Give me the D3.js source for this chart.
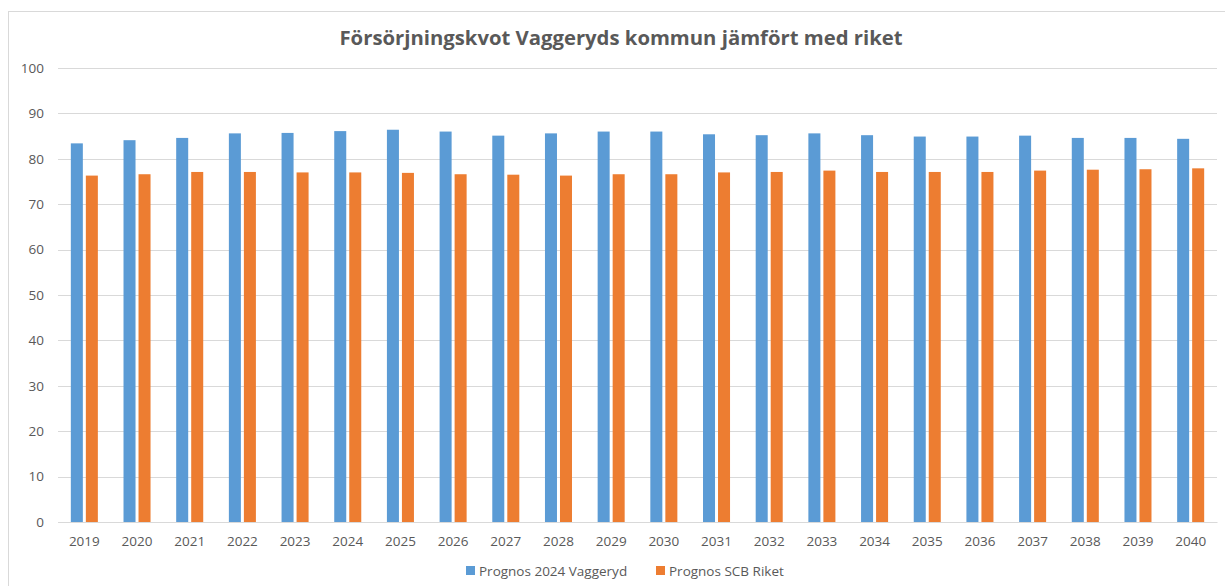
<!DOCTYPE html>
<html>
<head>
<meta charset="utf-8">
<script src="https://cdn.jsdelivr.net/npm/d3@7"></script>
<style>
  body { margin: 0; background: #fff; }
  svg { display: block; font-family: "Open Sans", "Liberation Sans", sans-serif; }
</style>
</head>
<body>
<svg width="1225" height="586"></svg>
<script>
const years = ['2019', '2020', '2021', '2022', '2023', '2024', '2025', '2026', '2027', '2028', '2029',
  '2030', '2031', '2032', '2033', '2034', '2035', '2036', '2037', '2038', '2039', '2040'];
const vaggeryd = [83.4, 84.1, 84.6, 85.6, 85.7, 86.1, 86.4, 86.0, 85.1, 85.6, 86.0,
  86.0, 85.4, 85.2, 85.6, 85.2, 84.9, 84.9, 85.1, 84.6, 84.6, 84.4];
const riket = [76.3, 76.6, 77.1, 77.1, 77.0, 77.0, 76.9, 76.6, 76.5, 76.3, 76.6,
  76.6, 77.0, 77.1, 77.4, 77.1, 77.1, 77.1, 77.4, 77.6, 77.7, 77.9];
const seriesNames = ['Prognos 2024 Vaggeryd', 'Prognos SCB Riket'];
const yTicks = [0, 10, 20, 30, 40, 50, 60, 70, 80, 90, 100];

const colors = ['#5b9bd5', '#ed7d31'];
const textColor = '#595959';

const svg = d3.select('svg');
const margin = { top: 68, right: 8, bottom: 64, left: 58 };
const width = 1225, height = 586;

// chart frame (only left/top edges are inside the picture)
svg.append('rect')
  .attr('x', 8.5).attr('y', 11.5)
  .attr('width', 1240).attr('height', 600)
  .attr('fill', 'none').attr('stroke', '#d9d9d9');

const x0 = d3.scaleBand()
  .domain(years)
  .range([margin.left, width - margin.right])
  .paddingInner(0.487)
  .paddingOuter(0.2435);

const x1 = d3.scaleBand()
  .domain([0, 1])
  .range([0, x0.bandwidth()])
  .paddingInner(0.2);

const y = d3.scaleLinear()
  .domain([0, 100])
  .range([height - margin.bottom, margin.top]);

// gridlines
svg.append('g')
  .selectAll('line').data(yTicks)
  .enter().append('line')
  .attr('x1', margin.left).attr('x2', width - margin.right)
  .attr('y1', d => Math.round(y(d)) + 0.5).attr('y2', d => Math.round(y(d)) + 0.5)
  .attr('stroke', '#d9d9d9').attr('stroke-width', 1);

// y labels
const yAxis = svg.append('g')
  .attr('transform', `translate(${margin.left - 14},0)`)
  .call(d3.axisLeft(y).tickValues(yTicks).tickSize(0).tickPadding(0));
yAxis.select('.domain').remove();
yAxis.selectAll('text')
  .attr('fill', textColor).attr('font-size', '13.5px')
  .attr('font-family', '"Open Sans", sans-serif');

// bars
const data = years.map((yr, i) => ({ year: yr, values: [vaggeryd[i], riket[i]] }));

const groups = svg.append('g')
  .selectAll('g').data(data)
  .enter().append('g')
  .attr('transform', d => `translate(${x0(d.year)},0)`);

groups.selectAll('rect')
  .data(d => d.values.map((v, k) => ({ v, k })))
  .enter().append('rect')
  .attr('x', d => x1(d.k))
  .attr('width', x1.bandwidth())
  .attr('y', d => y(d.v))
  .attr('height', d => y(0) - y(d.v))
  .attr('fill', d => colors[d.k]);

// x axis
const xAxis = svg.append('g')
  .attr('transform', `translate(0,${y(0)})`)
  .call(d3.axisBottom(x0).tickSize(0).tickPadding(14));
xAxis.select('.domain').attr('stroke', '#d9d9d9');
xAxis.selectAll('text')
  .attr('fill', textColor).attr('font-size', '13.5px')
  .attr('font-family', '"Open Sans", sans-serif');

// title
svg.append('text')
  .attr('x', 621).attr('y', 45)
  .attr('text-anchor', 'middle')
  .attr('font-size', '20.3px').attr('font-weight', 'bold')
  .attr('fill', textColor)
  .text('Försörjningskvot Vaggeryds kommun jämfört med riket');

// legend
const legendX = [466, 656];
const legend = svg.append('g')
  .selectAll('g').data(seriesNames)
  .enter().append('g')
  .attr('transform', (d, i) => `translate(${legendX[i]},566)`);
legend.append('rect')
  .attr('width', 9).attr('height', 9)
  .attr('fill', (d, i) => colors[i]);
legend.append('text')
  .attr('x', 13).attr('y', 9.5)
  .attr('font-size', '13.5px').attr('fill', textColor)
  .text(d => d);
</script>
</body>
</html>
